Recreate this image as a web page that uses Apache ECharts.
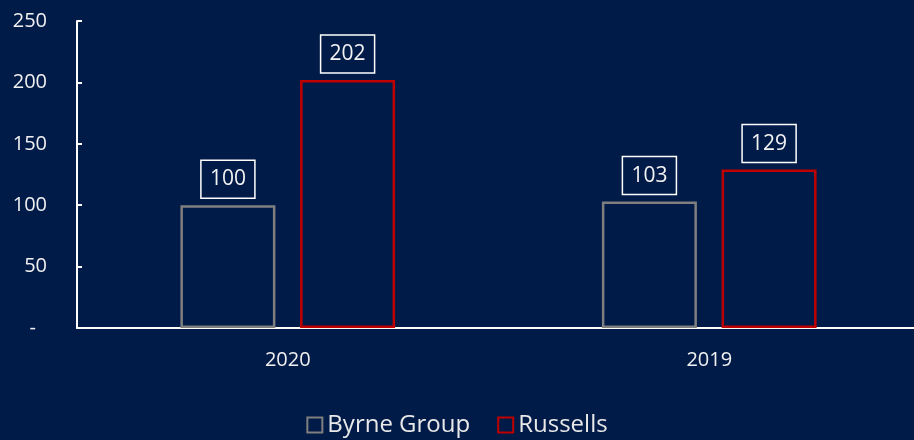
<!DOCTYPE html>
<html><head><meta charset="utf-8">
<script src="https://cdn.jsdelivr.net/npm/echarts@6/dist/echarts.min.js"></script>
<style>html,body{margin:0;padding:0;background:#001b48;}#c{width:914px;height:440px;}</style>
</head><body><div id="c"></div>
<script>
const categories = ['2020', '2019'];
const byrneGroup = [100, 103];
const russells = [202, 129];
const yTicks = [0, 50, 100, 150, 200, 250];
const FONT = '"Open Sans", sans-serif';
const chart = echarts.init(document.getElementById('c'));
const lbl = {
  show: true, position: 'top', distance: 7, color: '#f2f2f2', fontSize: 21, fontFamily: FONT,
  lineHeight: 22, borderColor: '#ffffff', borderWidth: 1.5, padding: [8, 9, 8, 9]
};
chart.setOption({
  backgroundColor: '#001b48',
  animation: false,
  grid: { left: 77, right: -6, top: 21, bottom: 112, containLabel: false, outerBoundsMode: 'none' },
  legend: {
    bottom: -2, left: 'center', itemWidth: 15, itemHeight: 15, itemGap: 27,
    textStyle: { color: '#e8e8e8', fontSize: 24, fontFamily: FONT },
    data: [
      { name: 'Byrne Group', icon: 'rect', itemStyle: { color: 'transparent', borderColor: '#7f7f7f', borderWidth: 2 } },
      { name: 'Russells', icon: 'rect', itemStyle: { color: 'transparent', borderColor: '#c00000', borderWidth: 2 } }
    ]
  },
  xAxis: {
    type: 'category', data: categories,
    axisLine: { lineStyle: { color: '#ffffff', width: 2 } },
    axisTick: { show: false },
    axisLabel: { color: '#f0f0f0', fontSize: 20, fontFamily: FONT, margin: 22 }
  },
  yAxis: {
    type: 'value', min: 0, max: 250, interval: 50,
    axisLine: { show: true, lineStyle: { color: '#ffffff', width: 2 } },
    axisTick: { show: true, inside: true, length: 5, lineStyle: { color: '#ffffff', width: 2 } },
    splitLine: { show: false },
    axisLabel: { color: '#f0f0f0', fontSize: 20, fontFamily: FONT, margin: 30,
      formatter: v => yTicks.includes(v) ? (v === 0 ? '{d|-}' : String(v)) : '',
      rich: { d: { color: '#f0f0f0', fontSize: 20, fontFamily: FONT, padding: [0, 11, 0, 0] } } }
  },
  series: [
    { name: 'Byrne Group', type: 'bar', data: byrneGroup, barWidth: 95, barGap: '26%',
      itemStyle: { color: 'transparent', borderColor: '#7f7f7f', borderWidth: 2.5 }, label: lbl },
    { name: 'Russells', type: 'bar', data: russells, barWidth: 95,
      itemStyle: { color: 'transparent', borderColor: '#c00000', borderWidth: 2.5 }, label: lbl }
  ]
});
</script></body></html>
